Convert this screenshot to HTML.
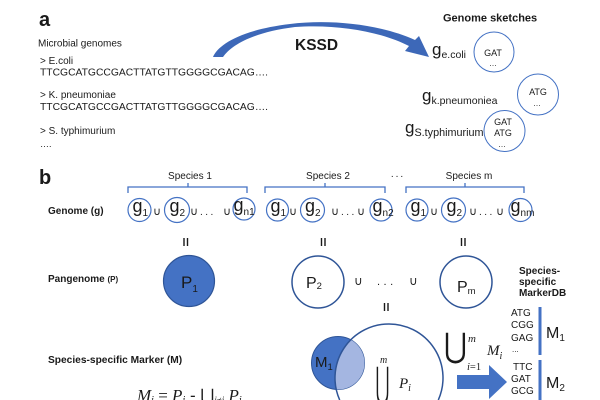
<!DOCTYPE html>
<html><head><meta charset="utf-8"><style>
html,body{margin:0;padding:0;background:#fff;width:600px;height:400px;overflow:hidden;}
svg{display:block;}
text{fill:#1a1a1a;}
</style></head><body>
<svg width="600" height="400" viewBox="0 0 600 400" font-family="'Liberation Sans', Arial, sans-serif" overflow="hidden">
<defs>
<clipPath id="bigc"><circle cx="389" cy="378" r="54"/></clipPath>
</defs>
<rect width="600" height="400" fill="#fff"/>

<!-- Part a -->
<text x="39" y="26" font-size="20" font-weight="bold">a</text>
<text x="38" y="46.5" font-size="10">Microbial genomes</text>
<text x="40" y="64" font-size="10">&gt; E.coli</text>
<text x="40" y="75.5" font-size="10.2" textLength="228" lengthAdjust="spacingAndGlyphs">TTCGCATGCCGACTTATGTTGGGGCGACAG….</text>
<text x="40" y="98" font-size="10">&gt; K. pneumoniae</text>
<text x="40" y="110" font-size="10.2" textLength="228" lengthAdjust="spacingAndGlyphs">TTCGCATGCCGACTTATGTTGGGGCGACAG….</text>
<text x="40" y="134" font-size="10">&gt; S. typhimurium</text>
<text x="40" y="147" font-size="9">….</text>

<!-- KSSD arrow -->
<path d="M213,57 C218,45 240,30 290,24 C330,19 380,24 415,40 L419,36 L429,57 L405,51 L409,46 C380,31 335,24 295,27 C255,32 232,44 223,57 Z" fill="#3D68B8"/>
<text x="295" y="50" font-size="15.5" font-weight="bold">KSSD</text>

<text x="443" y="21.5" font-size="11" font-weight="bold">Genome sketches</text>

<text x="432" y="55" font-size="17">g<tspan font-size="10.5" dy="3">e.coli</tspan></text>
<text x="422" y="101" font-size="17">g<tspan font-size="10.5" dy="3">k.pneumoniea</tspan></text>
<text x="405" y="133" font-size="17">g<tspan font-size="10.8" dy="3">S.typhimurium</tspan></text>

<circle cx="494" cy="52" r="20" fill="none" stroke="#4472C4" stroke-width="1"/>
<text x="493" y="56" font-size="9" text-anchor="middle">GAT</text>
<text x="493" y="66" font-size="8" text-anchor="middle" fill="#555">…</text>

<circle cx="538" cy="94.5" r="20.5" fill="none" stroke="#4472C4" stroke-width="1"/>
<text x="538" y="95" font-size="9" text-anchor="middle">ATG</text>
<text x="537" y="106" font-size="8" text-anchor="middle" fill="#555">…</text>

<circle cx="504.5" cy="131" r="20.5" fill="none" stroke="#4472C4" stroke-width="1"/>
<text x="503" y="125" font-size="9" text-anchor="middle">GAT</text>
<text x="503" y="136" font-size="9" text-anchor="middle">ATG</text>
<text x="502" y="147" font-size="8" text-anchor="middle" fill="#555">…</text>

<!-- Part b -->
<text x="39" y="184" font-size="20" font-weight="bold">b</text>

<!-- braces -->
<g fill="none" stroke="#4472C4" stroke-width="1.3">
<path d="M128,193 V187 H247 V193 M188,187 V183"/>
<path d="M265,193 V187 H385 V193 M325,187 V183"/>
<path d="M406,193 V187 H524 V193 M465,187 V183"/>
</g>
<text x="190" y="179" font-size="10" text-anchor="middle" fill="#333">Species 1</text>
<text x="328" y="179" font-size="10" text-anchor="middle" fill="#333">Species 2</text>
<text x="398" y="177" font-size="10" text-anchor="middle" fill="#333" letter-spacing="2">...</text>
<text x="469" y="179" font-size="10" text-anchor="middle" fill="#333">Species m</text>

<text x="48" y="214" font-size="10" font-weight="bold">Genome (g)</text>

<g fill="none" stroke="#4472C4" stroke-width="1.2">
<circle cx="139.5" cy="210" r="11.5"/>
<circle cx="177" cy="210" r="12.5"/>
<circle cx="244" cy="209" r="11"/>
<circle cx="277.5" cy="210" r="11"/>
<circle cx="312.5" cy="210" r="12"/>
<circle cx="381" cy="210" r="11"/>
<circle cx="417" cy="210" r="11"/>
<circle cx="453.5" cy="210" r="12"/>
<circle cx="520.5" cy="210" r="11.5"/>
</g>
<g font-size="18">
<text x="132.5" y="212">g<tspan font-size="10" dy="4">1</tspan></text>
<text x="169.5" y="212">g<tspan font-size="10" dy="4">2</tspan></text>
<text x="233.5" y="211">g<tspan font-size="10" dy="4">n1</tspan></text>
<text x="270.5" y="212">g<tspan font-size="10" dy="4">1</tspan></text>
<text x="305" y="212">g<tspan font-size="10" dy="4">2</tspan></text>
<text x="372.5" y="212">g<tspan font-size="10" dy="4">n2</tspan></text>
<text x="410.5" y="212">g<tspan font-size="10" dy="4">1</tspan></text>
<text x="446.5" y="212">g<tspan font-size="10" dy="4">2</tspan></text>
<text x="510.5" y="212">g<tspan font-size="10" dy="4">nm</tspan></text>
</g>
<g font-size="11" font-family="'DejaVu Sans', sans-serif">
<text x="153" y="215">∪</text>
<text x="190" y="215">∪</text>
<text x="223" y="215">∪</text>
<text x="289" y="215">∪</text>
<text x="331" y="215">∪</text>
<text x="357" y="215">∪</text>
<text x="430" y="215">∪</text>
<text x="469" y="215">∪</text>
<text x="496" y="215">∪</text>
</g>
<g font-size="10" letter-spacing="2.5">
<text x="200" y="215">...</text>
<text x="341" y="215">...</text>
<text x="479" y="215">...</text>
</g>

<!-- equals (vertical) -->
<g stroke="#1a1a1a" stroke-width="1.4">
<path d="M184,238 V246 M187.5,238 V246"/>
<path d="M321.5,238 V246 M325,238 V246"/>
<path d="M461.5,238 V246 M465,238 V246"/>
<path d="M384.5,303 V311 M388,303 V311"/>
</g>

<text x="48" y="282" font-size="10" font-weight="bold">Pangenome <tspan font-size="8">(P)</tspan></text>

<circle cx="189" cy="281" r="25.5" fill="#4472C4" stroke="#2F5597" stroke-width="1.2"/>
<text x="181" y="288" font-size="17">P<tspan font-size="10" dy="4">1</tspan></text>

<circle cx="318" cy="282" r="26" fill="none" stroke="#2F5597" stroke-width="1.5"/>
<text x="306" y="288" font-size="16">P<tspan font-size="9.5" dy="1">2</tspan></text>

<g font-size="12" font-family="'DejaVu Sans', sans-serif">
<text x="354" y="285">∪</text>
<text x="409" y="285">∪</text>
</g>
<text x="377" y="285" font-size="11" letter-spacing="3.5">...</text>

<circle cx="466" cy="282" r="26" fill="none" stroke="#2F5597" stroke-width="1.5"/>
<text x="457" y="292" font-size="16">P<tspan font-size="9.5" dy="2">m</tspan></text>

<text x="519" y="274" font-size="10" font-weight="bold">Species-</text>
<text x="519" y="285" font-size="10" font-weight="bold">specific</text>
<text x="519" y="296" font-size="10" font-weight="bold">MarkerDB</text>

<text x="48" y="363" font-size="10.2" font-weight="bold">Species-specific Marker (M)</text>

<!-- Venn -->
<circle cx="338" cy="363" r="26.5" fill="#4472C4" stroke="#2F5597" stroke-width="1"/>
<circle cx="338" cy="363" r="26.5" fill="#A4B6E1" clip-path="url(#bigc)"/>
<path d="M339.7,400 A54,54 0 1 1 438.3,400" fill="none" stroke="#2F5597" stroke-width="1.5"/>
<text x="315" y="367" font-size="15">M<tspan font-size="9.5" dy="3">1</tspan></text>

<text x="380" y="363" font-size="10" font-style="italic" font-family="'Liberation Serif', serif">m</text>
<text x="399" y="388" font-size="15" font-style="italic" font-family="'Liberation Serif', serif">P<tspan font-size="10" dy="3">i</tspan></text>

<!-- bottom-edge items clipped inside nested svg -->
<svg x="0" y="330" width="600" height="70" viewBox="0 330 600 70" overflow="hidden">
<text x="0" y="0" font-size="20" font-family="'DejaVu Sans', sans-serif" transform="translate(375.5,397) scale(0.85,2.1)">⋃</text>
<text x="137" y="401" font-size="17" font-style="italic" font-family="'Liberation Serif', serif">M<tspan font-size="10" dy="2">i</tspan><tspan font-style="normal" dy="-2"> = </tspan>P<tspan font-size="10" dy="2">i</tspan><tspan font-style="normal" font-family="'Liberation Sans', sans-serif" dy="-2"> - </tspan><tspan font-style="normal" font-family="'DejaVu Sans', sans-serif">⋃</tspan><tspan font-size="9" dy="2">j≠i</tspan><tspan dy="-2"> P</tspan><tspan font-size="10" dy="2">j</tspan></text>
</svg>

<!-- right formula -->
<text x="0" y="0" font-size="26" font-family="'DejaVu Sans', sans-serif" transform="translate(444,357) scale(1.08,1.3)">⋃</text>
<text x="468" y="342" font-size="11" font-style="italic" font-family="'Liberation Serif', serif">m</text>
<text x="467" y="370" font-size="10.5" font-style="italic" font-family="'Liberation Serif', serif">i<tspan font-style="normal">=1</tspan></text>
<text x="487" y="355" font-size="15" font-style="italic" font-family="'Liberation Serif', serif">M<tspan font-size="10" dy="4">i</tspan></text>

<!-- big arrow -->
<path d="M457,375 H489 V365 L507,382 L489,399 V389 H457 Z" fill="#4472C4"/>

<!-- MarkerDB list -->
<g font-size="10" fill="#1a1a1a">
<text x="511" y="316">ATG</text>
<text x="511" y="328">CGG</text>
<text x="511" y="341">GAG</text>
<text x="512" y="352" font-size="8">...</text>
<text x="513" y="370">TTC</text>
<text x="511" y="382">GAT</text>
<text x="511" y="394">GCG</text>
</g>
<rect x="538.5" y="307" width="3" height="48" fill="#4472C4"/>
<rect x="538.5" y="360" width="3" height="40" fill="#4472C4"/>
<text x="546" y="338" font-size="16">M<tspan font-size="10" dy="3">1</tspan></text>
<text x="546" y="388" font-size="16">M<tspan font-size="10" dy="3">2</tspan></text>
</svg>
</body></html>
